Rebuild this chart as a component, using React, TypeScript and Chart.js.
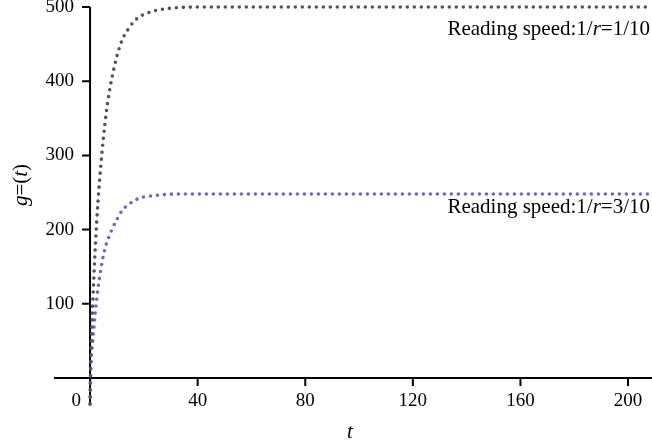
import React, { useEffect, useRef } from "react";
import { Chart, registerables } from "chart.js";

Chart.register(...registerables);

// time values (t)
const tValues = [0, 0.3, 1, 2, 3, 4, 5, 6, 7, 8, 10, 12, 14, 16, 18, 20, 24, 28, 32, 40, 60, 100, 150, 209];
// Reading speed 1/r = 1/10
const seriesSlow = [-35, 30, 100, 180, 240, 286, 325, 357, 382, 402, 434, 456, 469, 479, 486, 490, 495, 497.5, 499, 500, 500, 500, 500, 500];
// Reading speed 1/r = 3/10
const seriesFast = [-35, 16, 49, 90, 122, 146, 166, 180, 190, 199, 214, 226, 233, 238, 242, 244, 246, 247.3, 248, 248, 248, 248, 248, 248];

const xTicks = [0, 40, 80, 120, 160, 200];
const yTicks = [100, 200, 300, 400, 500];
const seriesNames = ["1/10", "3/10"];
const seriesColors = ["#4f5366", "#6868cc"];

const FONT = '"Liberation Serif", "DejaVu Serif", serif';
const TICK_SIZE = 19;
const LABEL_SIZE = 21;
const TITLE_SIZE = 21;

function drawParts(ctx: CanvasRenderingContext2D, parts: [string, boolean][], size: number, x: number, y: number, align: "left" | "right" | "center") {
  const widths = parts.map(([s, it]) => {
    ctx.font = `${it ? "italic " : ""}${size}px ${FONT}`;
    return ctx.measureText(s).width;
  });
  const total = widths.reduce((a, b) => a + b, 0);
  let cx = align === "left" ? x : align === "right" ? x - total : x - total / 2;
  ctx.textAlign = "left";
  parts.forEach(([s, it], i) => {
    ctx.font = `${it ? "italic " : ""}${size}px ${FONT}`;
    ctx.fillText(s, cx, y);
    cx += widths[i];
  });
}

const axesPlugin = {
  id: "customAxes",
  beforeDatasetsDraw(chart: any) {
    const { ctx, chartArea, scales } = chart;
    const xs = scales.x;
    const ys = scales.y;
    const x0 = xs.getPixelForValue(0);
    const y0 = ys.getPixelForValue(0);
    ctx.save();
    ctx.strokeStyle = "#000";
    ctx.lineWidth = 2;
    ctx.beginPath();
    ctx.moveTo(chartArea.left, y0);
    ctx.lineTo(chartArea.right, y0);
    ctx.moveTo(x0, chartArea.top);
    ctx.lineTo(x0, chartArea.bottom);
    yTicks.forEach((v) => {
      const py = ys.getPixelForValue(v);
      ctx.moveTo(x0 - 8, py);
      ctx.lineTo(x0, py);
    });
    xTicks.forEach((v) => {
      const px = xs.getPixelForValue(v);
      ctx.moveTo(px, y0);
      ctx.lineTo(px, y0 + 8);
    });
    ctx.stroke();
    ctx.restore();
  },
  afterDraw(chart: any) {
    const { ctx, chartArea, scales } = chart;
    const xs = scales.x;
    const ys = scales.y;
    const x0 = xs.getPixelForValue(0);
    const y0 = ys.getPixelForValue(0);
    ctx.save();
    ctx.fillStyle = "#000";
    ctx.font = `${TICK_SIZE}px ${FONT}`;
    ctx.textBaseline = "middle";
    ctx.textAlign = "right";
    yTicks.forEach((v) => {
      ctx.fillText(String(v), x0 - 16, ys.getPixelForValue(v));
    });
    ctx.textBaseline = "top";
    xTicks.forEach((v) => {
      const px = xs.getPixelForValue(v);
      if (v === 0) {
        ctx.textAlign = "right";
        ctx.fillText(String(v), px - 9, y0 + 13);
      } else {
        ctx.textAlign = "center";
        ctx.fillText(String(v), px, y0 + 13);
      }
    });
    // x title
    ctx.textBaseline = "middle";
    drawParts(ctx, [["t", true]], TITLE_SIZE, (chartArea.left + chartArea.right) / 2 - 3, 432, "center");
    // y title
    ctx.save();
    ctx.translate(21, 185);
    ctx.rotate(-Math.PI / 2);
    drawParts(ctx, [["g", true], ["=(", false], ["t", true], [")", false]], TITLE_SIZE, 0, 0, "center");
    ctx.restore();
    // series labels
    ctx.textBaseline = "alphabetic";
    const anchors = [462, 223];
    seriesNames.forEach((name, i) => {
      drawParts(
        ctx,
        [["Reading speed:1/", false], ["r", true], ["=" + name, false]],
        LABEL_SIZE,
        chartArea.right - 2,
        ys.getPixelForValue(anchors[i]),
        "right"
      );
    });
    ctx.restore();
  },
};

export default function App() {
  const ref = useRef<HTMLCanvasElement>(null);
  useEffect(() => {
    if (!ref.current) return;
    const mk = (data: number[], color: string) => ({
      data: tValues.map((t, i) => ({ x: t, y: data[i] })),
      borderColor: color,
      borderWidth: 3.6,
      borderDash: [0, 7],
      borderCapStyle: "round" as const,
      pointRadius: 0,
      cubicInterpolationMode: "monotone" as const,
      fill: false,
      clip: false as const,
    });
    const chart = new Chart(ref.current, {
      type: "line",
      data: {
        datasets: [mk(seriesSlow, seriesColors[0]), mk(seriesFast, seriesColors[1])],
      },
      options: {
        responsive: false,
        animation: false,
        devicePixelRatio: 1,
        layout: { padding: { left: 54, right: 0, top: 7, bottom: 42 } },
        plugins: { legend: { display: false }, tooltip: { enabled: false } },
        scales: {
          x: { type: "linear", display: false, min: -13.4, max: 208.9 },
          y: { type: "linear", display: false, min: -35, max: 500 },
        },
      },
      plugins: [axesPlugin],
    });
    return () => chart.destroy();
  }, []);
  return (
    <div style={{ position: "fixed", left: 0, top: 0, width: 652, height: 446, background: "#fff" }}>
      <canvas ref={ref} width={652} height={446} />
    </div>
  );
}
